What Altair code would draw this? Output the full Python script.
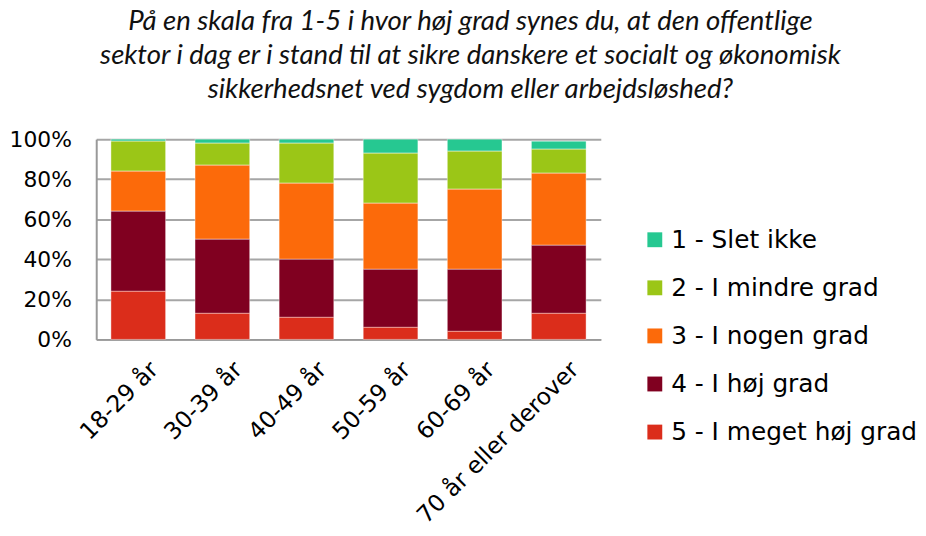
import altair as alt
import pandas as pd

groups = ["18-29 år", "30-39 år", "40-49 år", "50-59 år", "60-69 år", "70 år eller derover"]
levels = ["1 - Slet ikke", "2 - I mindre grad", "3 - I nogen grad", "4 - I høj grad", "5 - I meget høj grad"]
colors = ["#26C891", "#9BC617", "#FC6A0A", "#800020", "#DB2D1B"]

v1 = [0.01, 0.02, 0.02, 0.07, 0.06, 0.04]
v2 = [0.15, 0.11, 0.20, 0.25, 0.19, 0.12]
v3 = [0.20, 0.37, 0.38, 0.33, 0.40, 0.36]
v4 = [0.40, 0.37, 0.29, 0.29, 0.31, 0.34]
v5 = [0.24, 0.13, 0.11, 0.06, 0.04, 0.13]

rows = []
for lvl_i, (lvl, vals) in enumerate(zip(levels, [v1, v2, v3, v4, v5])):
    for g, v in zip(groups, vals):
        rows.append({"Gruppe": g, "Svar": lvl, "Andel": v, "rank": lvl_i + 1})
df = pd.DataFrame(rows)

axis_font = "DejaVu Sans"

chart = alt.Chart(df).mark_bar(stroke="white", strokeWidth=0.4).encode(
    x=alt.X("Gruppe:N", sort=groups, title=None,
            scale=alt.Scale(paddingInner=0.35, paddingOuter=0.175),
            axis=alt.Axis(labelAngle=-45, labelFontSize=23.5, labelFont=axis_font,
                          labelColor="#000000", ticks=False, domain=True,
                          domainColor="#999999", domainWidth=2, labelPadding=18,
                          labelOffset=8, labelLimit=400)),
    y=alt.Y("Andel:Q", stack="zero", title=None,
            scale=alt.Scale(domain=[0, 1], nice=False),
            axis=alt.Axis(format=".0%", values=[0, 0.2, 0.4, 0.6, 0.8, 1.0],
                          labelFontSize=22, labelFont=axis_font, labelColor="#000000",
                          grid=True, gridColor="#a6a6a6", gridWidth=2,
                          domain=True, domainColor="#999999", domainWidth=2,
                          ticks=False, labelPadding=25)),
    color=alt.Color("Svar:N", sort=levels,
                    scale=alt.Scale(domain=levels, range=colors),
                    legend=alt.Legend(title=None, orient="none", legendX=551, legendY=89,
                                      labelFontSize=25, labelFont=axis_font,
                                      labelColor="#000000", symbolType="square",
                                      symbolSize=225, symbolStrokeWidth=0,
                                      rowPadding=22.5, labelOffset=4, labelLimit=400)),
    order=alt.Order("rank:Q", sort="descending"),
).properties(
    width=509, height=202,
    autosize=alt.AutoSizeParams(type="none"),
    title=alt.TitleParams(
        text=["På en skala fra 1-5 i hvor høj grad synes du, at den offentlige",
              "sektor i dag er i stand til at sikre danskere et socialt og økonomisk",
              "sikkerhedsnet ved sygdom eller arbejdsløshed?"],
        font="Lato", fontSize=27.8, fontStyle="italic", fontWeight="normal",
        color="#111111", lineHeight=34, anchor="middle", dx=123, offset=25),
    padding={"left": 89, "top": 130, "right": 320, "bottom": 190},
).configure_view(stroke=None)

chart.save("out.html", embed_options={"renderer": "svg", "actions": False})
